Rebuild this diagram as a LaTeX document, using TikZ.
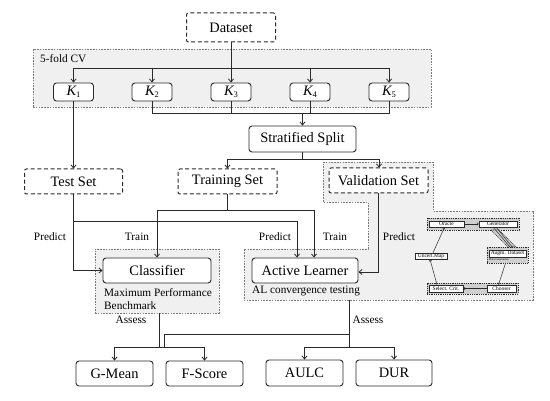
\documentclass[tikz,border=0pt]{standalone}
\usepackage{fontspec}
\setmainfont{Liberation Serif}
\usetikzlibrary{arrows.meta}
\definecolor{linec}{HTML}{2A2A2A}
\definecolor{grpfill}{HTML}{F0F0F0}
\definecolor{grpline}{HTML}{7A7A7A}
\definecolor{tinyfill}{HTML}{CFCFCF}
\newcommand{\mainsz}{\fontsize{14.4}{16}\selectfont}
\newcommand{\labsz}{\fontsize{11.3}{13}\selectfont}
\newcommand{\tinysz}{\fontsize{5.5}{6}\selectfont}
\newcommand{\kname}[1]{{\itshape K}\raisebox{-1.6pt}{\fontsize{8.5}{9}\selectfont #1}}
\tikzset{
  box/.style={draw=linec, line width=0.9pt, rounded corners=3pt, fill=white, inner sep=0pt, font=\mainsz, text=black},
  dbox/.style={box, draw=none, rounded corners=2pt, postaction={draw=linec, line width=1pt, dash pattern=on 4pt off 2.6pt}},
  ln/.style={draw=linec, line width=0.8pt},
  arr/.style={ln, -{Straight Barb[length=3pt,width=5pt]}},
  grp/.style={draw=grpline, fill=grpfill, dash pattern=on 1.6pt off 1.2pt, line width=0.7pt},
  lab/.style={font=\labsz, inner sep=0pt, text=black},
  tbox/.style={draw=linec, line width=0.5pt, fill=white, inner sep=0pt, font=\tinysz},
  tgrp/.style={draw=linec, fill=tinyfill, dash pattern=on 1pt off 0.8pt, line width=0.6pt, inner sep=0pt},
  tarr/.style={draw=linec, line width=0.5pt, -{Straight Barb[length=1.5pt,width=2.5pt]}}
}
\begin{document}
\begin{tikzpicture}[x=1pt,y=-1pt]
\useasboundingbox[fill=white] (0,0) rectangle (550,401);
% background groups
\node[grp, minimum width=398pt, minimum height=58pt] (cvg) at (232,78) {};
\draw[grp] (323,162) -- (433,162) -- (433,211) -- (533,211) -- (533,300) -- (244,300)
  -- (244,249) -- (368,249) -- (368,202) -- (323,202) -- cycle;
\node[grp, minimum width=124pt, minimum height=64pt] (cg) at (157,281) {};
\coordinate (alb) at (349,300);
% labels in groups
\node[lab, anchor=west] (cvl) at (40,59) {5-fold CV};
\node[lab, anchor=west, align=left] (mpb) at (104,299.5) {Maximum Performance\\Benchmark};
\node[lab, anchor=west] (alc) at (252,291) {AL convergence testing};
% main nodes
\node[dbox, minimum width=89pt, minimum height=29pt] (ds) at (231,27.5) {Dataset};
\foreach \i/\x in {1/73.5,2/152,3/231,4/310,5/389}
  \node[box, minimum width=40pt, minimum height=18pt] (k\i) at (\x,92) {\kname{\i}};
\node[box, minimum width=107pt, minimum height=26pt] (ss) at (302.5,139) {Stratified Split};
\node[dbox, minimum width=98pt, minimum height=25pt] (test) at (73.5,181.5) {Test Set};
\node[dbox, minimum width=99pt, minimum height=25pt] (train) at (227.5,181.5) {Training Set};
\node[dbox, minimum width=99pt, minimum height=25pt] (val) at (378.5,180.5) {Validation Set};
\node[box, minimum width=108pt, minimum height=25pt] (cls) at (157,270.5) {Classifier};
\node[box, minimum width=106pt, minimum height=25pt] (al) at (305,270.5) {Active Learner};
\node[box, minimum width=77pt, minimum height=25pt] (gm) at (114.5,373.5) {G-Mean};
\node[box, minimum width=77pt, minimum height=25pt] (fs) at (204.5,373.5) {F-Score};
\node[box, minimum width=77pt, minimum height=26pt] (aulc) at (304.5,373) {AULC};
\node[box, minimum width=76pt, minimum height=26pt] (dur) at (394,373) {DUR};
% connector labels
\node[lab] (lp1) at (50,237) {Predict};
\node[lab] (lt1) at (137,237) {Train};
\node[lab] (lp2) at (275,237) {Predict};
\node[lab] (lt2) at (335,237) {Train};
\node[lab] (lp3) at (399,237) {Predict};
\node[lab] (la1) at (131,320) {Assess};
\node[lab] (la2) at (368,320) {Assess};
% connectors top
\coordinate (cvbus) at (0,68);
\coordinate (lbus) at (0,113);
\coordinate (sbus) at (0,159);
\draw[ln] (k1.north|-cvbus) -- (k5.north|-cvbus);
\foreach \i in {1,2,4,5} \draw[arr] (k\i.north|-cvbus) -- (k\i.north);
\draw[arr] (ds.south) -- (k3.north);
\draw[ln] (k2.south) -- (k2.south|-lbus) -- (k5.south|-lbus) -- (k5.south);
\draw[ln] (k3.south) -- (k3.south|-lbus);
\draw[ln] (k4.south) -- (k4.south|-lbus);
\draw[arr] (ss.north|-lbus) -- (ss.north);
\draw[ln] (ss.south) -- (ss.south|-sbus);
\draw[ln] (train.north|-sbus) -- ([xshift=0.5pt]val.north|-sbus);
\draw[arr] (train.north|-sbus) -- (train.north);
\draw[arr] ([xshift=0.5pt]val.north|-sbus) -- ([xshift=0.5pt]val.north);
\draw[arr] (k1.south) -- (test.north);
% middle
\coordinate (prb) at (0,221);
\coordinate (trb) at (0,210);
\draw[arr] (test.south) |- (cls.west);
\draw[arr] (test.south|-prb) -| ([xshift=-8pt]al.north);
\draw[ln] (train.south) -- (train.south|-trb);
\draw[arr] (train.south|-trb) -| (cls.north);
\draw[arr] (train.south|-trb) -| ([xshift=9pt]al.north);
\draw[arr] (val.south) |- ([yshift=-1.5pt]al.east);
% assess
\coordinate (abus) at (0,347.5);
\coordinate (mbus) at (0,334.5);
\draw[ln] ([xshift=2pt]cg.south) -- ([xshift=2pt]cg.south|-abus);
\draw[ln] (gm.north|-abus) -- (fs.north|-abus);
\draw[arr] (gm.north|-abus) -- (gm.north);
\draw[arr] (fs.north|-abus) -- (fs.north);
\draw[ln] (alb) -- (alb|-abus);
\draw[ln] (alb|-mbus) -| ([xshift=7pt]cg.south|-abus);
\draw[ln] (aulc.north|-abus) -- (dur.north|-abus);
\draw[arr] (aulc.north|-abus) -- (aulc.north);
\draw[arr] (dur.north|-abus) -- (dur.north);
% tiny AL cycle
\node[tgrp, minimum width=92pt, minimum height=12pt] (og) at (473,224) {};
\node[tgrp, minimum width=91pt, minimum height=11pt] (cg2) at (472.5,288.5) {};
\draw[tgrp] (491,230) -- (499,230) -- (516,247) -- (508,247) -- cycle;
\node[tgrp, minimum width=41pt, minimum height=16pt] (ag) at (507.5,255) {};
\node[tbox, minimum width=35pt, minimum height=6pt] (ora) at (446.5,224) {Oracle};
\node[tbox, minimum width=38pt, minimum height=6pt] (gen) at (498,224) {Generator};
\node[tbox, minimum width=37pt, minimum height=7pt] (aug) at (507.5,253.5) {Augm. Dataset};
\node[inner sep=0pt, font=\fontsize{3}{3}\selectfont, anchor=west] (dgl) at (489,260) {Data Generation};
\node[tbox, minimum width=32pt, minimum height=6pt] (unc) at (431,256) {Uncert.Map};
\node[tbox, minimum width=34pt, minimum height=7pt] (sel) at (446,288.5) {Select. Crit.};
\node[tbox, minimum width=29pt, minimum height=7pt] (cho) at (501.5,288.5) {Chooser};
\draw[tarr] (ora.east) -- (gen.west);
\draw[tarr] (cho.west) -- (sel.east);
\draw[draw=linec, line width=0.5pt] (493,227) -- (510,247);
\draw[tarr] (496,227) -- (513,248);
\draw[tarr] ([xshift=-9pt]sel.north) -- ([xshift=-1pt]unc.south);
\draw[tarr] ([xshift=2pt]unc.north) -- ([xshift=-2pt]ora.south);
\draw[tarr] ([xshift=-2pt]ag.south) -- ([xshift=-3pt]cho.north);
\end{tikzpicture}
\end{document}
